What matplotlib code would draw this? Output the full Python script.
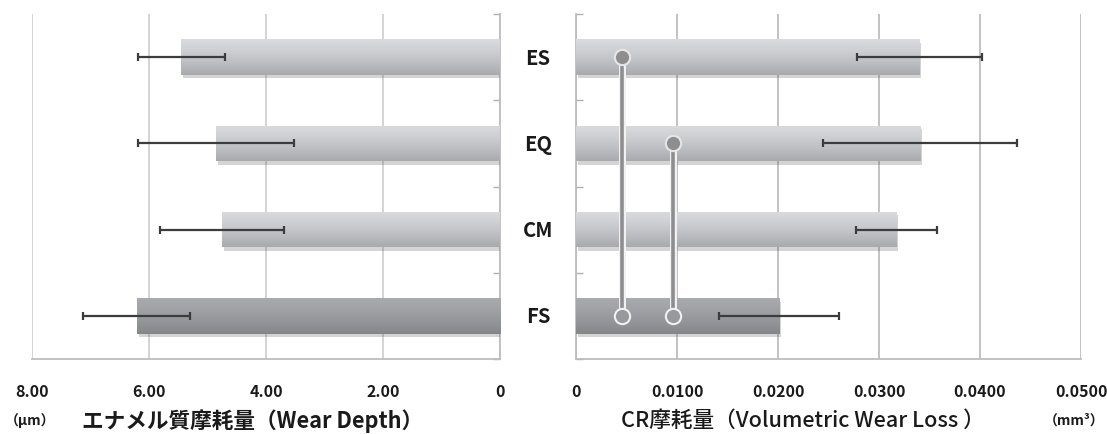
import numpy as np
import matplotlib
matplotlib.use("Agg")
import matplotlib.pyplot as plt
import matplotlib.patheffects as pe
from matplotlib.transforms import blended_transform_factory

plt.rcParams['font.family'] = ['Noto Sans CJK JP', 'DejaVu Sans']

# ---------------- data ----------------
categories = ['ES', 'EQ', 'CM', 'FS']
wear_depth = [5.45, 4.85, 4.75, 6.21]          # µm
wear_depth_err = [0.745, 1.33, 1.06, 0.915]
wear_loss = [0.0340, 0.0341, 0.0317, 0.0201]   # mm3
wear_loss_err = [0.0062, 0.0096, 0.0040, 0.0059]
depth_ticks = [8.0, 6.0, 4.0, 2.0, 0.0]
depth_ticklabels = ['8.00', '6.00', '4.00', '2.00', '0']
loss_ticks = [0.0, 0.01, 0.02, 0.03, 0.04, 0.05]
loss_ticklabels = ['0', '0.0100', '0.0200', '0.0300', '0.0400', '0.0500']
sig_x = [0.0046, 0.0096]
sig_from = ['ES', 'EQ']
sig_to = 'FS'

# ---------------- style ----------------
W, H = 1107, 435
fig = plt.figure(figsize=(W / 100, H / 100), dpi=100)
axL = fig.add_axes([32 / W, (H - 360) / H, 468 / W, 345 / H])
axR = fig.add_axes([576 / W, (H - 360) / H, 505 / W, 345 / H])

ypos = {c: len(categories) - 1 - i for i, c in enumerate(categories)}
ys = [ypos[c] for c in categories]
bar_h = 0.41

light_top, light_bot = np.array([0.85, 0.855, 0.865]), np.array([0.66, 0.665, 0.68])
dark_top, dark_bot = np.array([0.66, 0.665, 0.68]), np.array([0.52, 0.525, 0.54])


def grad_img(top, bot, n=64):
    t = np.linspace(0, 1, n)[:, None]
    t = t ** 1.3
    col = top[None, :] * (1 - t) + bot[None, :] * t
    return col[:, None, :]


def draw_bars(ax, vals, errs, xlim, gridcol):
    bars = ax.barh(ys, vals, height=bar_h, color='#c0c1c4', zorder=3,
                   linewidth=0)
    for b, c in zip(bars, categories):
        b.set_path_effects([pe.SimplePatchShadow(offset=(1.5, -2.5), alpha=0.25,
                                                  shadow_rgbFace='#555555'),
                            pe.Normal()])
        top, bot = (dark_top, dark_bot) if c == 'FS' else (light_top, light_bot)
        x0 = b.get_x()
        w = b.get_width()
        y0 = b.get_y()
        h = b.get_height()
        im = ax.imshow(grad_img(top, bot), extent=[x0, x0 + w, y0, y0 + h],
                       aspect='auto', origin='upper', zorder=4,
                       interpolation='bilinear')
        im.set_clip_path(b)
    ax.errorbar(vals, ys, xerr=errs, fmt='none', ecolor='#3c3c3c',
                elinewidth=1.6, capsize=3.2, capthick=1.6, zorder=6)
    ax.set_xlim(*xlim)
    ax.set_ylim(-0.5, len(categories) - 0.5)
    ax.set_aspect('auto')
    ax.grid(axis='x', color=gridcol, linewidth=1.2, zorder=0)
    ax.set_axisbelow(True)
    ax.set_yticks(np.arange(-0.5, len(categories), 1.0))
    ax.set_yticklabels([])
    ax.tick_params(axis='x', length=0, pad=17, labelsize=11.5, labelcolor='#1a1a1a')
    ax.tick_params(axis='y', direction='in', length=5, color='#b0b0b0', width=1)
    for s in ax.spines.values():
        s.set_color('#bdbdbd')
        s.set_linewidth(1.3)
    ax.spines['top'].set_visible(False)


draw_bars(axL, wear_depth, wear_depth_err, (8.0, 0.0), '#cdcdcd')
axL.set_xticks(depth_ticks)
axL.set_xticklabels(depth_ticklabels, fontweight='bold')
axL.spines['left'].set_visible(False)
axL.yaxis.tick_right()

draw_bars(axR, wear_loss, wear_loss_err, (0.0, 0.05), '#b8b8b8')
axR.set_xticks(loss_ticks)
axR.set_xticklabels(loss_ticklabels, fontweight='bold')
axR.spines['right'].set_visible(False)
axR.yaxis.tick_left()

# significance markers
for xv, cf in zip(sig_x, sig_from):
    y_top, y_bot = ypos[cf], ypos[sig_to]
    axR.plot([xv, xv], [y_top, y_bot], color='#8e8e90', linewidth=2.6,
             solid_capstyle='butt', zorder=7,
             path_effects=[pe.Stroke(linewidth=5.0, foreground='#f2f2f2'), pe.Normal()])
    axR.plot([xv], [y_top], marker='o', markersize=11, markerfacecolor='#8e8e90',
             markeredgecolor='#e6e6e6', markeredgewidth=1.5, zorder=8)
    axR.plot([xv], [y_bot], marker='o', markersize=11, markerfacecolor='#98999c',
             markeredgecolor='#f0f0f0', markeredgewidth=1.5, zorder=8)

# category labels between panels
tr = blended_transform_factory(fig.transFigure, axR.transData)
for c in categories:
    fig.text(538 / W, ypos[c], c, transform=tr, ha='center', va='center',
             fontsize=14.5, fontweight='bold', color='#1a1a1a')

# axis titles
fig.text(5 / W, (H - 421) / H, '（μm）', ha='left', va='center', fontsize=10,
         fontweight='bold', color='#1a1a1a')
fig.text(253 / W, (H - 421) / H, 'エナメル質摩耗量（Wear Depth）', ha='center',
         va='center', fontsize=15.6, fontweight='bold', color='#1a1a1a')
fig.text(803 / W, (H - 421) / H, 'CR摩耗量（Volumetric Wear Loss ）', ha='center',
         va='center', fontsize=15.6, fontweight='medium', color='#1a1a1a')
fig.text(1074 / W, (H - 421) / H, '（mm³）', ha='center', va='center', fontsize=10,
         fontweight='bold', color='#1a1a1a')

fig.savefig('out.png', dpi=100)
